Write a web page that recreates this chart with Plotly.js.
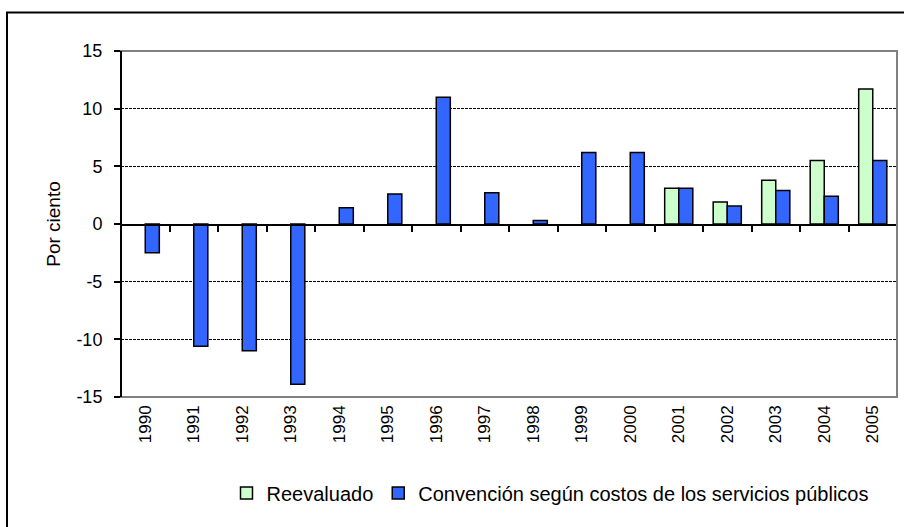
<!DOCTYPE html>
<html>
<head>
<meta charset="utf-8">
<script src="https://cdn.plot.ly/plotly-3.0.1.min.js"></script>
<style>html,body{margin:0;padding:0;background:#fff;}#chart{width:904px;height:527px;}</style>
</head>
<body>
<div id="chart"></div>
<script>
const years = ["1990","1991","1992","1993","1994","1995","1996","1997","1998","1999","2000","2001","2002","2003","2004","2005"];
const reevaluado = [null,null,null,null,null,null,null,null,null,null,null,3.1,1.9,3.8,5.5,11.7];
const convencion = [-2.5,-10.6,-11.0,-13.9,1.4,2.6,11.0,2.7,0.3,6.2,6.2,3.1,1.55,2.9,2.4,5.5];
const yTicks = [-15,-10,-5,0,5,10,15];
const seriesNames = ["Reevaluado","Convención según costos de los servicios públicos"];

const W = 904, H = 527, ml = 121, mr = 7, mt = 51, mb = 130;
const pw = W - ml - mr, ph = H - mt - mb;
const px2x = p => (p - ml) / pw;
const px2y = p => 1 - (p - mt) / ph;

const font = "'Liberation Sans', Arial, sans-serif";

const traces = [
  {type:"bar", name:seriesNames[0], x:years, y:reevaluado,
   marker:{color:"#CCFFCC", line:{color:"#000", width:1.5}}},
  {type:"bar", name:seriesNames[1], x:years, y:convencion,
   marker:{color:"#3366FF", line:{color:"#000", width:1.5}}},
  {type:"scatter", x:years.map((_,i)=>i), y:years.map(()=>0), xaxis:"x2", yaxis:"y",
   mode:"none", showlegend:false, hoverinfo:"skip"}
];

const boundaries = [];
for (let i = 0; i <= years.length; i++) boundaries.push(i - 0.5);

const layout = {
  width: W, height: H,
  margin: {l: ml, r: mr, t: mt, b: mb, autoexpand: false},
  paper_bgcolor: "#fff", plot_bgcolor: "#fff",
  font: {family: font, color: "#000", size: 16},
  barmode: "group", bargap: 0.42, bargroupgap: 0,
  showlegend: true,
  legend: {orientation: "h", x: px2x(550), xanchor: "center", y: px2y(493), yanchor: "middle",
           font: {family: font, size: 20, color: "#000"}, itemwidth: 30, tracegroupgap: 0, bgcolor: "rgba(0,0,0,0)"},
  xaxis: {type: "category", categoryarray: years, tickangle: -90, showgrid: false, zeroline: false,
          showline: false, ticks: "", tickfont: {family: font, size: 17}, ticklabelstandoff: 4, fixedrange: true},
  xaxis2: {overlaying: "x", anchor: "free", position: 0.5, range: [-0.5, years.length - 0.5],
           tickvals: boundaries, showticklabels: false, ticks: "outside", ticklen: 6, tickwidth: 2,
           tickcolor: "#000", showline: true, linecolor: "#000", linewidth: 1.5, showgrid: false, zeroline: false},
  yaxis: {range: [-15, 15], tickvals: yTicks, ticktext: yTicks.map(String), showgrid: true, gridcolor: "#000",
          griddash: "3px,1px", gridwidth: 1, zeroline: false, showline: false, ticks: "outside", ticklen: 6,
          tickwidth: 2, tickcolor: "#000", tickfont: {family: font, size: 18}, ticklabelstandoff: 8,
          title: {text: "Por ciento", font: {family: font, size: 19}, standoff: 10}},
  shapes: [
    {type: "rect", xref: "paper", yref: "paper", x0: 0, x1: 1, y0: 0, y1: 1, line: {color: "#808080", width: 2}, layer: "above"},
    {type: "line", xref: "paper", yref: "paper", x0: 0, x1: 0, y0: 0, y1: 1, line: {color: "#000", width: 2}, layer: "above"},
    {type: "line", xref: "paper", yref: "paper", x0: px2x(7), x1: px2x(7), y0: px2y(12.5), y1: px2y(600), line: {color: "#000", width: 2}},
    {type: "line", xref: "paper", yref: "paper", x0: px2x(6), x1: px2x(1000), y0: px2y(12.5), y1: px2y(12.5), line: {color: "#000", width: 2}}
  ]
};

Plotly.newPlot("chart", traces, layout, {displayModeBar: false, staticPlot: true});
</script>
</body>
</html>
